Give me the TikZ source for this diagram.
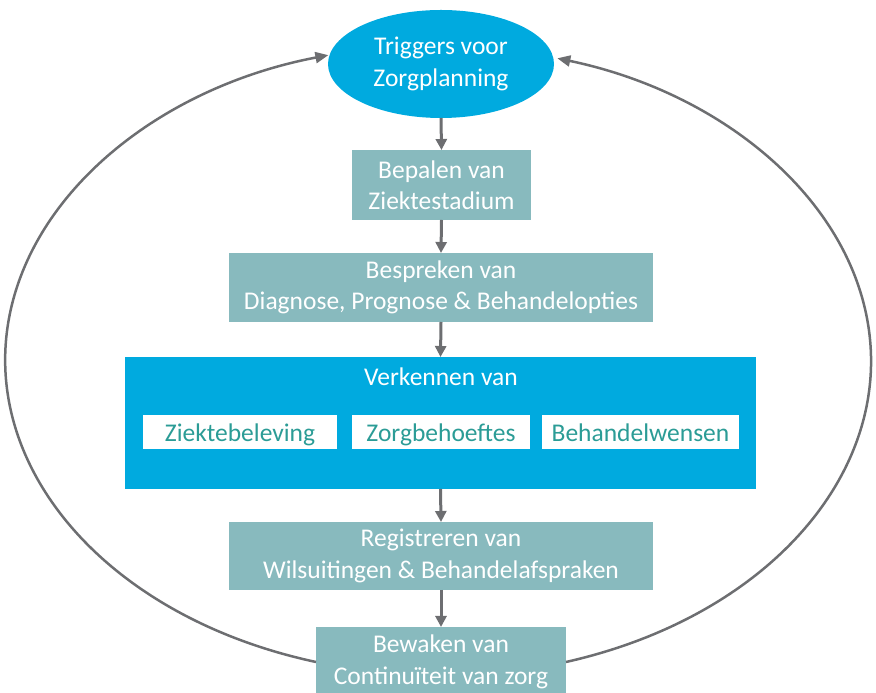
\documentclass[tikz,border=0pt]{standalone}
\usepackage{fontspec}
\setmainfont{Carlito}
\usetikzlibrary{shapes.geometric,arrows.meta}
\definecolor{cblue}{HTML}{00AADF}
\definecolor{cteal}{HTML}{88BABE}
\definecolor{ctext}{HTML}{2B9C96}
\definecolor{cgray}{HTML}{6D6E71}
\begin{document}
\begin{tikzpicture}[x=1pt,y=1pt,
  every node/.style={font=\fontsize{25.5}{31.5}\selectfont, align=center, inner sep=0pt, outer sep=0pt},
  tealbox/.style={rectangle, fill=cteal, text=white},
  whitebox/.style={rectangle, fill=white, text=ctext, minimum height=34pt, text height=20pt, text depth=0pt},
  flow/.style={draw=cgray, line width=3pt, -{Triangle[length=11pt,width=11pt]}},
  loopline/.style={draw=cgray, line width=2.5pt, -{Triangle[length=13pt,width=11pt]}}
]
\useasboundingbox (0,0) rectangle (876,693);

\node[ellipse, fill=cblue, text=white, minimum width=226pt, minimum height=108pt] (trig) at (441,629) {Triggers voor\\Zorgplanning};
\node[tealbox, minimum width=179pt, minimum height=70pt] (bep) at (441.5,508) {Bepalen van\\Ziektestadium};
\node[tealbox, minimum width=424pt, minimum height=69pt] (besp) at (441,405.5) {Bespreken van\\Diagnose, Prognose \& Behandelopties};
\node[rectangle, fill=cblue, minimum width=631pt, minimum height=132pt] (verk) at (440.5,270) {};
\node[text=white] (verklab) at (441,316) {Verkennen van};
\node[whitebox, minimum width=194pt] (w1) at (240,261) {Ziektebeleving};
\node[whitebox, minimum width=178pt] (w2) at (441,261) {Zorgbehoeftes};
\node[whitebox, minimum width=197pt] (w3) at (640.5,261) {Behandelwensen};
\node[tealbox, minimum width=424pt, minimum height=68pt] (reg) at (441,137) {Registreren van\\Wilsuitingen \& Behandelafspraken};
\node[tealbox, minimum width=250pt, minimum height=70pt] (bew) at (441,31) {Bewaken van\\Continuïteit van zorg};

\draw[flow] (trig.south) -- (bep.north);
\draw[flow] (bep.south) -- (besp.north);
\draw[flow] (besp.south) -- (verk.north);
\draw[flow] (verk.south) -- (reg.north);
\draw[flow] (reg.south) -- (bew.north);

\draw[loopline] (bew.west) arc[start angle=253.6, end angle=104.7, x radius=433pt, y radius=315pt];
\draw[loopline] (bew.east) arc[start angle=-72.8, end angle=74, x radius=433pt, y radius=315pt];
\end{tikzpicture}
\end{document}
